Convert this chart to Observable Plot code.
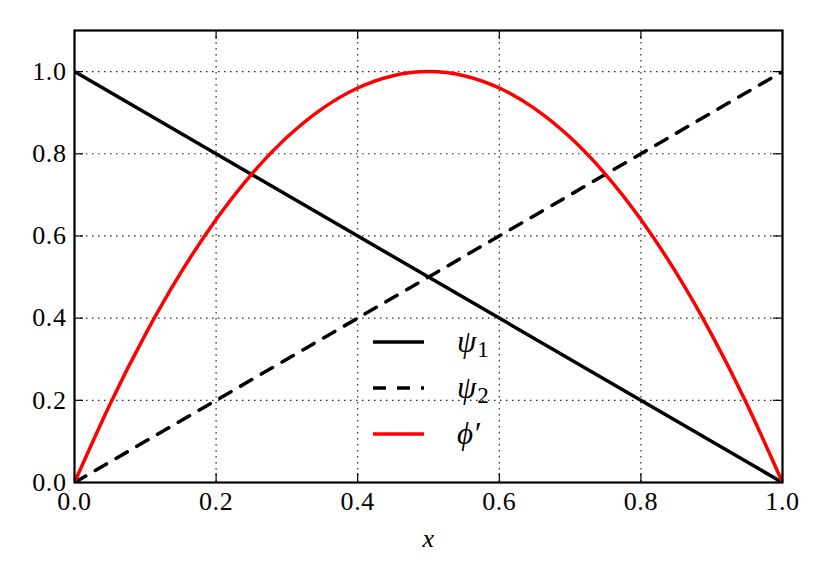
<!DOCTYPE html>
<html>
<head>
<meta charset="utf-8">
<script src="https://cdn.jsdelivr.net/npm/d3@7"></script>
<script src="https://cdn.jsdelivr.net/npm/@observablehq/plot@0.6"></script>
<style>
  html, body { margin: 0; padding: 0; background: #fff; }
  #wrap { position: relative; width: 830px; height: 581px; font-family: "Liberation Serif", "DejaVu Serif", serif; }
  #legend { position: absolute; left: 372px; top: 322px; font-size: 31px; font-family: "Liberation Serif", "DejaVu Serif", serif; }
  #legend .row { position: absolute; left: 0; width: 130px; height: 40px; }
  #legend svg { position: absolute; left: 0; top: 0; }
  #legend .lab { position: absolute; left: 85px; top: 0; font-style: italic; white-space: nowrap; line-height: 40px; }
  #legend sub { font-style: normal; font-size: 23px; vertical-align: -5px; line-height: 0; margin-left: 1px; }
</style>
</head>
<body>
<div id="wrap"></div>
<script>
// ---- data ----
const xTicks = [0.0, 0.2, 0.4, 0.6, 0.8, 1.0];
const yTicks = [0.0, 0.2, 0.4, 0.6, 0.8, 1.0];
const psi1X = [0.0, 1.0];
const psi1Y = [1.0, 0.0];
const psi2X = [0.0, 1.0];
const psi2Y = [0.0, 1.0];
const phiX = [0.0, 0.05, 0.1, 0.15, 0.2, 0.25, 0.3, 0.35, 0.4, 0.45, 0.5, 0.55, 0.6, 0.65, 0.7, 0.75, 0.8, 0.85, 0.9, 0.95, 1.0];
const phiY = [0.0, 0.19, 0.36, 0.51, 0.64, 0.75, 0.84, 0.91, 0.96, 0.99, 1.0, 0.99, 0.96, 0.91, 0.84, 0.75, 0.64, 0.51, 0.36, 0.19, 0.0];
const seriesNames = ["ψ1", "ψ2", "ϕ′"];

const psi1 = psi1X.map((x, i) => ({x, y: psi1Y[i]}));
const psi2 = psi2X.map((x, i) => ({x, y: psi2Y[i]}));
const phi = phiX.map((x, i) => ({x, y: phiY[i]}));

const W = 830, H = 581;
const mL = 74, mR = 48, mT = 30, mB = 99;
const plotH = H - mT - mB;
const plotW = W - mL - mR;
const fmt = d3.format(".1f");
const font = "'Liberation Serif', 'DejaVu Serif', serif";

const chart = Plot.plot({
  width: W, height: H,
  marginLeft: mL, marginRight: mR, marginTop: mT, marginBottom: mB,
  style: {fontFamily: font, fontSize: "26px", color: "#000", background: "#fff", letterSpacing: "0.6px"},
  x: {domain: [0, 1], ticks: xTicks, tickFormat: fmt, label: null},
  y: {domain: [0, 1.1], ticks: yTicks, tickFormat: fmt, label: null},
  marks: [
    Plot.gridX(xTicks, {stroke: "#000", strokeOpacity: 0.85, strokeWidth: 1.2, strokeDasharray: "1.5,4.5"}),
    Plot.gridY(yTicks, {stroke: "#000", strokeOpacity: 0.85, strokeWidth: 1.2, strokeDasharray: "1.5,4.5"}),
    Plot.tickX(xTicks, {x: d => d, insetTop: plotH - 9, stroke: "#000", strokeWidth: 1.2}),
    Plot.tickX(xTicks, {x: d => d, insetBottom: plotH - 9, stroke: "#000", strokeWidth: 1.2}),
    Plot.tickY(yTicks, {y: d => d, insetRight: plotW - 9, stroke: "#000", strokeWidth: 1.2}),
    Plot.tickY(yTicks, {y: d => d, insetLeft: plotW - 9, stroke: "#000", strokeWidth: 1.2}),
    Plot.axisX(xTicks, {tickSize: 0, tickPadding: 9, fontSize: 26}),
    Plot.axisY(yTicks, {tickSize: 0, tickPadding: 8, fontSize: 26}),
    Plot.line(psi1, {x: "x", y: "y", stroke: "#000", strokeWidth: 3.5, clip: true}),
    Plot.line(psi2, {x: "x", y: "y", stroke: "#000", strokeWidth: 3.5, strokeDasharray: "13,11", clip: true}),
    Plot.line(phi, {x: "x", y: "y", stroke: "#ff0000", strokeWidth: 3.5, curve: "natural", clip: true}),
    Plot.frame({stroke: "#000", strokeWidth: 2.2}),
    Plot.text(["x"], {frameAnchor: "bottom", dy: 64, text: d => d, fontStyle: "italic", fontSize: 26})
  ]
});

const wrap = document.getElementById("wrap");
wrap.appendChild(chart);

// legend (no frame), placed inside the axes
const legend = document.createElement("div");
legend.id = "legend";
const styles = [
  {stroke: "#000", dash: null},
  {stroke: "#000", dash: "13,11"},
  {stroke: "#ff0000", dash: null}
];
const labels = ["ψ<sub>1</sub>", "ψ<sub>2</sub>", "ϕ′"];
seriesNames.forEach((name, i) => {
  const row = document.createElement("div");
  row.className = "row";
  row.style.top = (i * 46) + "px";
  row.innerHTML = `<svg width="60" height="40"><line x1="1" x2="52" y1="20" y2="20" stroke="${styles[i].stroke}" stroke-width="3.5" ${styles[i].dash ? `stroke-dasharray="${styles[i].dash}"` : ""}/></svg><span class="lab">${labels[i]}</span>`;
  legend.appendChild(row);
});
wrap.appendChild(legend);
</script>
</body>
</html>
